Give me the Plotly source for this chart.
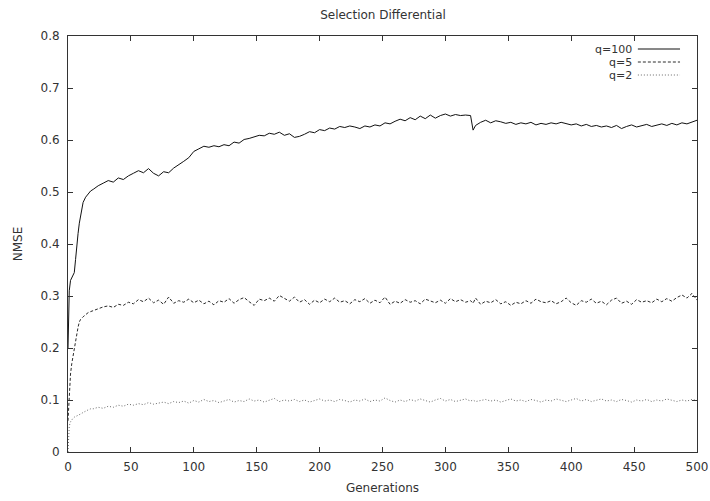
import plotly.graph_objects as go

generations = [0, 1, 2, 3, 4, 5, 6, 7, 8, 9, 10, 12, 14, 16, 18,
               20, 24, 28, 32, 36, 40, 44, 48, 52, 56, 60, 64, 68, 72, 76, 80, 84, 88, 92, 96,
               100, 104, 108, 112, 116, 120, 124, 128, 132, 136, 140, 144, 148, 152, 156, 160,
               164, 168, 172, 176, 180, 184, 188, 192, 196, 200, 204, 208, 212, 216, 220, 224,
               228, 232, 236, 240, 244, 248, 252, 256, 260, 264, 268, 272, 276, 280, 284, 288,
               292, 296, 300, 304, 308, 312, 316, 320, 322, 324, 328, 332, 336, 340, 344, 348,
               352, 356, 360, 364, 368, 372, 376, 380, 384, 388, 392, 396, 400, 404, 408, 412,
               416, 420, 424, 428, 432, 436, 440, 444, 448, 452, 456, 460, 464, 468, 472, 476,
               480, 484, 488, 492, 496, 500]

q100 = [0.20, 0.31, 0.33, 0.335, 0.34, 0.345, 0.37, 0.40, 0.42, 0.44, 0.455, 0.48, 0.49, 0.497, 0.502,
        0.505, 0.512, 0.517, 0.522, 0.519, 0.527, 0.524, 0.531, 0.536, 0.541, 0.537, 0.545, 0.536, 0.531,
        0.539, 0.537, 0.546, 0.552, 0.559, 0.566, 0.578, 0.583, 0.588, 0.586, 0.589, 0.587, 0.591, 0.589,
        0.596, 0.594, 0.601, 0.603, 0.606, 0.609, 0.608, 0.613, 0.611, 0.615, 0.609, 0.612, 0.605, 0.607,
        0.611, 0.616, 0.614, 0.620, 0.618, 0.623, 0.621, 0.626, 0.624, 0.627, 0.625, 0.622, 0.627, 0.625,
        0.629, 0.627, 0.633, 0.631, 0.636, 0.640, 0.637, 0.643, 0.639, 0.646, 0.641, 0.648, 0.642, 0.647,
        0.650, 0.646, 0.649, 0.647, 0.648, 0.647, 0.619, 0.628, 0.634, 0.638, 0.633, 0.637, 0.635, 0.632,
        0.634, 0.630, 0.633, 0.631, 0.634, 0.629, 0.632, 0.630, 0.633, 0.631, 0.634, 0.632, 0.629, 0.631,
        0.627, 0.630, 0.626, 0.628, 0.625, 0.627, 0.624, 0.628, 0.622, 0.626, 0.629, 0.625, 0.628, 0.630,
        0.626, 0.629, 0.631, 0.628, 0.632, 0.629, 0.633, 0.631, 0.635, 0.638]

q5 = [0.06, 0.11, 0.15, 0.17, 0.185, 0.195, 0.21, 0.225, 0.24, 0.25, 0.255, 0.26, 0.265, 0.268, 0.27,
      0.272, 0.276, 0.279, 0.281, 0.278, 0.284, 0.282, 0.288, 0.285, 0.293, 0.289, 0.296, 0.287, 0.292,
      0.284, 0.298, 0.286, 0.291, 0.288, 0.294, 0.287, 0.292, 0.285, 0.290, 0.283, 0.291, 0.288, 0.295,
      0.286, 0.293, 0.297, 0.289, 0.282, 0.294, 0.291, 0.296, 0.290, 0.301, 0.295, 0.290, 0.298, 0.288,
      0.293, 0.284, 0.292, 0.287, 0.294, 0.289, 0.296, 0.288, 0.291, 0.285, 0.293, 0.289, 0.295, 0.286,
      0.292, 0.287, 0.298, 0.284, 0.290, 0.286, 0.293, 0.288, 0.291, 0.285, 0.294, 0.290, 0.287, 0.292,
      0.286, 0.295, 0.289, 0.293, 0.288, 0.291, 0.286, 0.296, 0.284, 0.290, 0.287, 0.293, 0.285, 0.289,
      0.282, 0.288, 0.285, 0.291, 0.286, 0.294, 0.289, 0.287, 0.291, 0.285, 0.289, 0.296, 0.287, 0.282,
      0.291, 0.288, 0.294, 0.286, 0.290, 0.283, 0.292, 0.296, 0.286, 0.290, 0.284, 0.293, 0.288, 0.291,
      0.287, 0.294, 0.289, 0.295, 0.290, 0.297, 0.302, 0.296, 0.305, 0.292]

q2 = [0.0, 0.05, 0.058, 0.062, 0.065, 0.067, 0.068, 0.070, 0.071, 0.072, 0.073, 0.076, 0.079, 0.081, 0.083,
      0.083, 0.086, 0.084, 0.088, 0.086, 0.090, 0.088, 0.092, 0.090, 0.093, 0.091, 0.095, 0.092, 0.094,
      0.096, 0.093, 0.097, 0.095, 0.098, 0.094, 0.099, 0.096, 0.101, 0.097, 0.099, 0.095, 0.098, 0.101,
      0.096, 0.099, 0.097, 0.102, 0.098, 0.100, 0.096, 0.099, 0.103, 0.097, 0.100, 0.098, 0.101, 0.097,
      0.100, 0.096, 0.099, 0.102, 0.098, 0.100, 0.097, 0.101, 0.099, 0.096, 0.100, 0.098, 0.102, 0.097,
      0.100, 0.098, 0.104, 0.099, 0.096, 0.100, 0.097, 0.101, 0.098, 0.102, 0.099, 0.096, 0.100, 0.103,
      0.098, 0.101, 0.097, 0.100, 0.102, 0.098, 0.100, 0.097, 0.099, 0.101, 0.098, 0.100, 0.096, 0.099,
      0.102, 0.098, 0.100, 0.097, 0.101, 0.099, 0.096, 0.100, 0.098, 0.102, 0.099, 0.097, 0.100, 0.103,
      0.098, 0.101, 0.097, 0.099, 0.102, 0.098, 0.100, 0.097, 0.101, 0.099, 0.096, 0.100, 0.098, 0.101,
      0.097, 0.100, 0.098, 0.102, 0.099, 0.097, 0.100, 0.098, 0.101, 0.099]

series_names = ["q=100", "q=5", "q=2"]
series_values = [q100, q5, q2]
styles = [("#111111", "solid", 1.0), ("#2a2a2a", "3px,2px", 1.0), ("#6a6a6a", "1px,2px", 1.0)]

FONT = "DejaVu Sans, Verdana, sans-serif"
TXT = "#333333"

fig = go.Figure()
for name, vals, (col, dash, w) in zip(series_names, series_values, styles):
    fig.add_trace(go.Scatter(x=generations, y=vals, mode="lines", name=name,
                             line=dict(color=col, dash=dash, width=w), showlegend=False))

# gnuplot-style key: right-aligned text followed by a line sample
key_y = [0.96875, 0.9375, 0.90625]
for name, (col, dash, w), ky in zip(series_names, styles, key_y):
    fig.add_annotation(text=name, xref="paper", yref="paper", x=0.899, y=ky,
                       xanchor="right", yanchor="middle", showarrow=False,
                       borderpad=0, font=dict(family=FONT, size=11, color=TXT))
    fig.add_shape(type="line", xref="paper", yref="paper", x0=0.906, x1=0.973, y0=ky, y1=ky,
                  line=dict(color=col, dash=dash, width=w))

axis_common = dict(showline=True, linecolor="#333", linewidth=1, mirror="ticks",
                   ticks="inside", ticklen=5, tickcolor="#333", showgrid=False, zeroline=False,
                   automargin=False, tickfont=dict(family=FONT, size=12, color=TXT))

fig.update_layout(
    width=710, height=501,
    margin=dict(l=68, r=13, t=36, b=49, autoexpand=False),
    paper_bgcolor="white", plot_bgcolor="white",
    title=dict(text="Selection Differential", x=383 / 710, xanchor="center", y=1 - 15 / 501,
               yanchor="middle", font=dict(family=FONT, size=12, color=TXT)),
    xaxis=dict(range=[0, 500], dtick=50, tick0=0, ticklabelstandoff=4,
               title=dict(text="Generations", standoff=10, font=dict(family=FONT, size=12, color=TXT)),
               **axis_common),
    yaxis=dict(range=[0, 0.8], dtick=0.1, tick0=0, ticklabelstandoff=5,
               title=dict(text="NMSE", standoff=15, font=dict(family=FONT, size=12, color=TXT)),
               **axis_common),
)

fig.write_html("out.html")
